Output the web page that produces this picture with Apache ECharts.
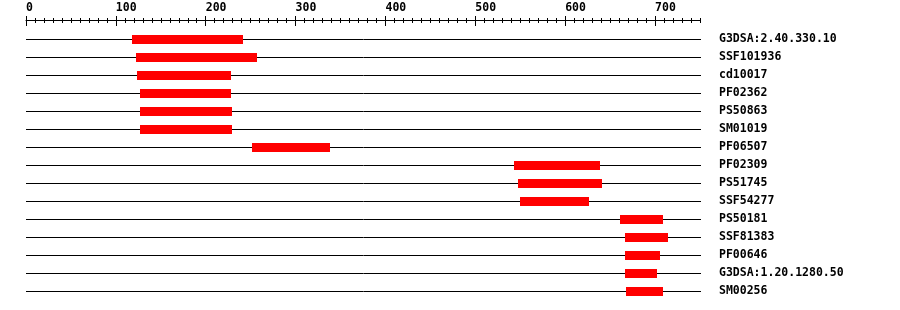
<!DOCTYPE html>
<html>
<head>
<meta charset="utf-8">
<script src="https://cdn.jsdelivr.net/npm/echarts@6/dist/echarts.min.js"></script>
<style>html,body{margin:0;padding:0;background:#fff;}#c{width:900px;height:310px;}</style>
</head>
<body>
<div id="c"></div>
<script>
const names = ['G3DSA:2.40.330.10','SSF101936','cd10017','PF02362','PS50863','SM01019','PF06507','PF02309','PS51745','SSF54277','PS50181','SSF81383','PF00646','G3DSA:1.20.1280.50','SM00256'];
const starts = [118,122,124,127,127,127,252,543,547,550,661,667,667,667,668];
const ends   = [242,257,228,228,229,229,338,639,641,626,709,714,706,702,709];
const majorTicks = [0,100,200,300,400,500,600,700];
const axisMax = 750;

const chart = echarts.init(document.getElementById('c'), null, {renderer:'canvas'});
const font = {fontFamily:'DejaVu Sans Mono', fontWeight:'bold', fontSize:11.5, color:'#000'};
const data = names.map((n,i)=>[i, starts[i], ends[i]]);

chart.setOption({
  animation:false,
  backgroundColor:'#fff',
  grid:{left:26, width:674, top:30, height:270},
  xAxis:[
    {type:'value', position:'top', min:0, max:axisMax, offset:14,
     axisLine:{show:false}, splitLine:{show:false},
     axisTick:{show:true, inside:true, length:10, customValues:majorTicks, lineStyle:{color:'#000', width:1}},
     axisLabel:{show:true, customValues:majorTicks, align:'left', margin:2, ...font}},
    {type:'value', position:'top', min:0, max:axisMax, interval:10, offset:12,
     axisLine:{show:false}, splitLine:{show:false},
     axisTick:{show:true, inside:true, length:5, lineStyle:{color:'#000', width:1}},
     axisLabel:{show:false}},
    {type:'value', position:'top', min:0, max:axisMax, offset:10,
     axisLine:{show:true, lineStyle:{color:'#000', width:1}}, splitLine:{show:false},
     axisTick:{show:false}, axisLabel:{show:false}}
  ],
  yAxis:{type:'category', data:names, inverse:true, position:'right',
    axisLine:{show:false}, axisTick:{show:false}, splitLine:{show:false},
    axisLabel:{margin:19, align:'left', padding:[2,0,0,0], ...font}},
  series:[{
    type:'custom', xAxisIndex:2, clip:false,
    encode:{y:0, x:[1,2]},
    data:data,
    renderItem:function(params, api){
      const y = api.value(0);
      const p0 = api.coord([0, y]);
      const p1 = api.coord([axisMax, y]);
      const ps = api.coord([api.value(1), y]);
      const pe = api.coord([api.value(2), y]);
      const yy = Math.round(p0[1]);
      const xs = Math.round(ps[0]), xe = Math.round(pe[0]);
      return {type:'group', children:[
        {type:'line', shape:{x1:Math.round(p0[0]), y1:yy+0.5, x2:Math.round(p1[0])+1, y2:yy+0.5}, style:{stroke:'#000', lineWidth:1}},
        {type:'rect', shape:{x:xs, y:yy-4, width:xe-xs, height:9}, style:{fill:'#ff0000'}}
      ]};
    }
  }]
});
</script>
</body>
</html>
